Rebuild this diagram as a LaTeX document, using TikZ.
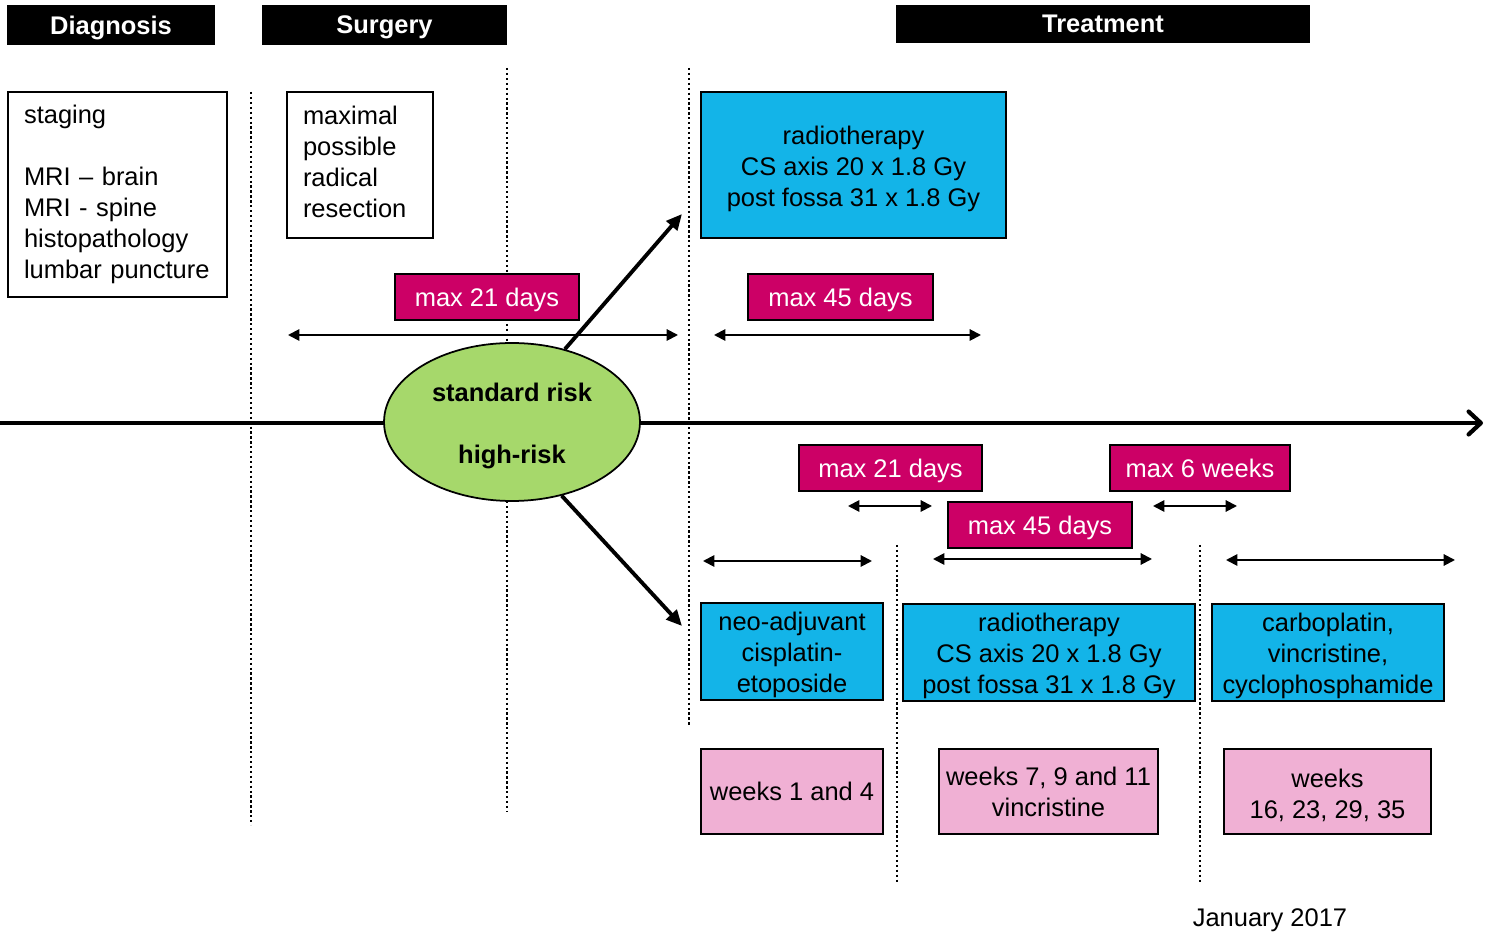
\documentclass[tikz,border=0pt]{standalone}
\usepackage{fontspec}
\setmainfont{Liberation Sans}
\usetikzlibrary{shapes.geometric,arrows.meta}

\definecolor{rtcyan}{HTML}{13B4E8}
\definecolor{maxmag}{HTML}{CC0066}
\definecolor{riskgreen}{HTML}{A6D86B}
\definecolor{weekpink}{HTML}{F0B0D4}

% strut for the first line of centred boxes
\newcommand{\upstrut}{\rule{0pt}{14.5pt}}

\begin{document}
\begin{tikzpicture}[x=0.02cm, y=-0.02cm,
	every node/.style={font=\fontsize{14.5pt}{17.6pt}\selectfont, inner sep=0pt},
	hdr/.style={fill=black, text=white, font=\fontsize{14.5pt}{17.6pt}\selectfont\bfseries, minimum height=0.8cm, text depth=0pt},
	plainbox/.style={draw, line width=1pt, fill=white, align=left},
	cyanbox/.style={draw, line width=1pt, fill=rtcyan, align=center, minimum height=1.94cm},
	magbox/.style={draw, line width=1pt, fill=maxmag, text=white, minimum height=0.92cm, text depth=0pt},
	pinkbox/.style={draw, line width=1pt, fill=weekpink, align=center, minimum height=1.7cm},
	sep/.style={line width=1.3pt, dash pattern=on 1.3pt off 1.5pt},
	dbl/.style={line width=1.1pt, {Triangle[length=6.5pt,width=6.5pt]}-{Triangle[length=6.5pt,width=6.5pt]}}]

\useasboundingbox (0,0) rectangle (1485,935);

%separadores
				\draw [sep] (251,92) -- (251,825);
				\draw [sep] (507,68) -- (507,812);
				\draw [sep] (689,68) -- (689,725);
				\draw [sep] (897,545) -- (897,883);
				\draw [sep] (1200,545) -- (1200,883);

%eje
				\coordinate (tstart) at (0,423);
				\coordinate (tend) at (1483,423);
				\draw [line width=2.4pt, -{Straight Barb[length=7pt,width=13pt,line cap=round,line join=round]}] (tstart) -- (tend);

%nodes
				\node [hdr, minimum width=4.16cm] (diaghead) at (111,25) {Diagnosis};
				\node [hdr, minimum width=4.9cm] (surghead) at (384.5,25) {Surgery};
				\node [hdr, minimum width=8.28cm, minimum height=0.76cm] (treathead) at (1103,24) {Treatment};

				\node [plainbox, text width=3.74cm, minimum height=4.1cm, inner xsep=0.32cm] (staging) at (117.5,194.5)
				{staging\\[0.62cm]MRI – brain\\MRI - spine\\histopathology\\lumbar puncture};
				\node [plainbox, text width=2.28cm, minimum height=2.92cm, inner xsep=0.32cm] (resect) at (360,165)
				{maximal\\possible\\radical\\resection\rule[-3.4pt]{0pt}{0pt}};

				\node [ellipse, draw, line width=1pt, fill=riskgreen, minimum width=5.12cm, minimum height=3.16cm,
					align=center, font=\fontsize{14.5pt}{17.6pt}\selectfont\bfseries] (risk) at (512,422)
				{\rule{0pt}{15pt}standard risk\\[0.62cm]high-risk};

				\node [cyanbox, minimum width=6.1cm, minimum height=2.92cm] (rtstd) at (853.5,165)
				{\rule{0pt}{15pt}radiotherapy\\CS axis 20 x 1.8 Gy\\post fossa 31 x 1.8 Gy};
				\node [magbox, minimum width=3.68cm] (surgmax) at (487,297) {max 21 days};
				\node [magbox, minimum width=3.7cm] (rtmax) at (840.5,297) {max 45 days};

				\node [magbox, minimum width=3.66cm] (neomax) at (890.5,468) {max 21 days};
				\node [magbox, minimum width=3.6cm] (chemomax) at (1200,468) {max 6 weeks};
				\node [magbox, minimum width=3.68cm] (rthighmax) at (1040,525) {max 45 days};

				\node [cyanbox, minimum width=3.64cm] (neo) at (792,651.5) {\upstrut neo-adjuvant\\cisplatin-\\etoposide};
				\node [cyanbox, minimum width=5.84cm] (rthigh) at (1049,652.5)
				{\upstrut radiotherapy\\CS axis 20 x 1.8 Gy\\post fossa 31 x 1.8 Gy};
				\node [cyanbox, minimum width=4.64cm] (carbo) at (1328,652.5)
				{\upstrut carboplatin,\\vincristine,\\cyclophosphamide};

				\node [pinkbox, minimum width=3.64cm] (wkneo) at (792,791.5) {weeks 1 and 4};
				\node [pinkbox, minimum width=4.38cm] (wkrt) at (1048.5,791.5) {weeks 7, 9 and 11\\vincristine};
				\node [pinkbox, minimum width=4.14cm] (wkcarbo) at (1327.5,791.5) {\upstrut weeks\\16, 23, 29, 35};

				\node [text depth=0pt] (date) at (1270,918) {January 2017};

%lineas
				\coordinate (upend) at (682,214);
				\coordinate (downend) at (682,626);
				\draw [line width=2.2pt, -{Triangle[length=9pt,width=8pt]}] (risk.54) -- (upend);
				\draw [line width=2.2pt, -{Triangle[length=9pt,width=8pt]}] (risk.-56) -- (downend);

				\coordinate (surgl) at (288,335);
				\coordinate (surgr) at (678,335);
				\coordinate (rtl) at (714,335);
				\coordinate (rtr) at (981,335);
				\draw [dbl] (surgl) -- (surgr);
				\draw [dbl] (rtl) -- (rtr);

				\coordinate (gapal) at (848,506);
				\coordinate (gapar) at (932,506);
				\coordinate (gapbl) at (1153,506);
				\coordinate (gapbr) at (1237,506);
				\draw [dbl] (gapal) -- (gapar);
				\draw [dbl] (gapbl) -- (gapbr);

				\coordinate (neol) at (703,561);
				\coordinate (neor) at (872,561);
				\coordinate (rthl) at (933,559);
				\coordinate (rthr) at (1152,559);
				\coordinate (carbol) at (1226,560);
				\coordinate (carbor) at (1455,560);
				\draw [dbl] (neol) -- (neor);
				\draw [dbl] (rthl) -- (rthr);
				\draw [dbl] (carbol) -- (carbor);

\end{tikzpicture}
\end{document}
